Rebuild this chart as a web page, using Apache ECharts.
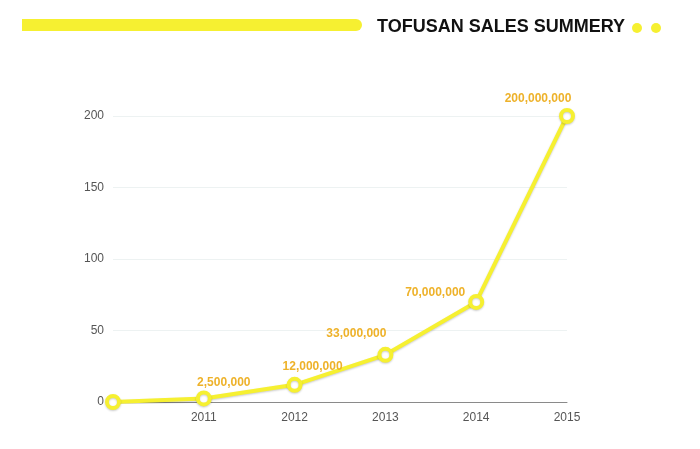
<!DOCTYPE html>
<html>
<head>
<meta charset="utf-8">
<script src="https://cdn.jsdelivr.net/npm/echarts@6/dist/echarts.min.js"></script>
<style>
	html, body { margin: 0; padding: 0; background: #fff; }
	#chart { width: 700px; height: 449px; }
</style>
</head>
<body>
<div id="chart"></div>
<script>
// 数据（百万）
const years = ["", "2011", "2012", "2013", "2014", "2015"];
const sales = [0, 2.5, 12, 33, 70, 200];
const yTicks = [0, 50, 100, 150, 200];

const titleText = "TOFUSAN SALES SUMMERY";
const yellow = "#f6f031";
const gold = "#eeb22a";

// 标签偏移
const labelShift = [null, [20, 3], [18, 1], [-29, -2], [-41, 10], [-29, 2]];

function fmt(v) {
	return Math.round(v * 1e6).toString().replace(/\B(?=(\d{3})+(?!\d))/g, ",");
}

const myChart = echarts.init(document.getElementById("chart"));

const seriesData = sales.map((v, i) => {
	if (!labelShift[i]) return { value: v, label: { show: false } };
	return {
		value: v,
		label: { show: true, offset: labelShift[i] },
	};
});

myChart.setOption({
	animation: false,
	grid: { left: 113, right: 133, top: 116, bottom: 47 },
	xAxis: {
		type: "category",
		data: years,
		boundaryGap: false,
		axisLine: { lineStyle: { color: "#8a8a8a", width: 1 } },
		axisTick: { show: false },
		axisLabel: {
			color: "#555",
			fontSize: 12,
			fontFamily: "Liberation Sans",
			margin: 10,
		},
		splitLine: { show: false },
	},
	yAxis: {
		type: "value",
		min: yTicks[0],
		max: yTicks[yTicks.length - 1],
		interval: 50,
		axisLine: { show: false },
		axisTick: { show: false },
		axisLabel: {
			color: "#555",
			fontSize: 12,
			fontFamily: "Liberation Sans",
			margin: 9,
		},
		splitLine: { lineStyle: { color: "#edf2f2", width: 1 } },
	},
	series: [
		{
			type: "line",
			data: seriesData,
			symbol: "circle",
			symbolSize: 12,
			showAllSymbol: true,
			z: 5,
			lineStyle: {
				color: yellow,
				width: 4,
				shadowColor: "rgba(0,0,0,0.2)",
				shadowBlur: 2,
				shadowOffsetY: 1,
			},
			itemStyle: {
				color: "#fff",
				borderColor: yellow,
				borderWidth: 4,
				shadowColor: "rgba(0,0,0,0.2)",
				shadowBlur: 2,
				shadowOffsetY: 1,
			},
			label: {
				position: "top",
				color: gold,
				fontSize: 12,
				fontWeight: "bold",
				fontFamily: "Liberation Sans",
				formatter: p => fmt(p.value),
			},
		},
	],
	graphic: [
		{
			type: "rect",
			shape: { x: 22, y: 19, width: 340, height: 12, r: [0, 6, 6, 0] },
			style: { fill: yellow },
		},
		{
			type: "text",
			left: 377,
			top: 18,
			style: {
				text: titleText,
				fill: "#111",
				font: "bold 18px 'Liberation Sans'",
			},
		},
		{
			type: "circle",
			shape: { cx: 637, cy: 28, r: 5 },
			style: { fill: yellow },
		},
		{
			type: "circle",
			shape: { cx: 656, cy: 28, r: 5 },
			style: { fill: yellow },
		},
	],
});
</script>
</body>
</html>
